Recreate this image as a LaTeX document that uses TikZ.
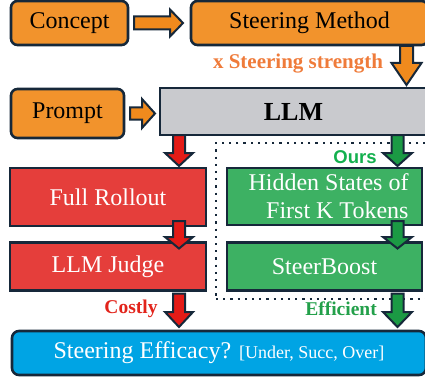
\documentclass[tikz,border=0pt]{standalone}
\usepackage{fontspec}
\setmainfont{Liberation Serif}
\newfontfamily\oursfont{Liberation Sans}
\usetikzlibrary{calc}
\definecolor{bord}{HTML}{16283A}
\definecolor{orng}{HTML}{F2932C}
\definecolor{orarr}{HTML}{F08A1D}
\definecolor{llmgray}{HTML}{C9CACE}
\definecolor{redbox}{HTML}{E53E3B}
\definecolor{greenbox}{HTML}{3DB163}
\definecolor{bluebox}{HTML}{00A4E4}
\definecolor{redarr}{HTML}{E41B17}
\definecolor{greenarr}{HTML}{1B9A44}
\definecolor{strc}{HTML}{EF7B3A}
\definecolor{oursc}{HTML}{13B04E}
\definecolor{costc}{HTML}{E2231A}
\definecolor{effc}{HTML}{23A04A}
\newcommand\arrdown[6]{%
  \draw[blockarr,fill=#1] ($(#2)+(-#4,0)$) -- ($(#3)+(-#4,-#6)$) -- ($(#3)+(-#5,-#6)$) -- (#3)
    -- ($(#3)+(#5,-#6)$) -- ($(#3)+(#4,-#6)$) -- ($(#2)+(#4,0)$) -- cycle;}
\newcommand\arrright[6]{%
  \draw[blockarr,fill=#1] ($(#2)+(0,-#4)$) -- ($(#3)+(-#6,-#4)$) -- ($(#3)+(-#6,-#5)$) -- (#3)
    -- ($(#3)+(-#6,#5)$) -- ($(#3)+(-#6,#4)$) -- ($(#2)+(0,#4)$) -- cycle;}
\begin{document}
\begin{tikzpicture}[x=1pt,y=-1pt,
  box/.style={draw=bord, line width=2.6pt, inner sep=0pt, outer sep=0pt,
    font=\fontsize{24}{28}\selectfont},
  obox/.style={box, fill=orng, rounded corners=6.5pt, text=black},
  gbox/.style={box, fill=llmgray, text=black, font=\fontsize{26}{30}\selectfont\bfseries},
  rbox/.style={box, fill=redbox, text=white},
  grbox/.style={box, fill=greenbox, text=white, align=right},
  bbox/.style={box, fill=bluebox, rounded corners=7pt, text=white},
  dotbox/.style={draw=bord, line width=2.2pt, dash pattern=on 2.2pt off 5pt, inner sep=0pt, outer sep=0pt},
  blockarr/.style={draw=bord, line width=2pt, line join=miter},
  lab/.style={inner sep=0pt, font=\fontsize{19.5}{22}\selectfont\bfseries}]
\useasboundingbox (0,0) rectangle (425,377);
% nodes
\node[obox, minimum width=117, minimum height=44] (concept) at (69.5,23) {Concept};
\node[obox, minimum width=237, minimum height=44] (steer) at (309.5,23) {Steering Method};
\node[obox, minimum width=113, minimum height=49] (prompt) at (67.5,113.5) {Prompt};
\node[gbox, minimum width=267, minimum height=47] (llm) at (293.5,111.5) {LLM};
\node[dotbox, minimum width=214, minimum height=156] (oursbox) at (323,221) {};
\node[rbox, minimum width=196, minimum height=58] (roll) at (108,197) {Full Rollout};
\node[grbox, minimum width=195, minimum height=57] (hidden) at (324.5,196.5) {\hspace*{8pt}Hidden States of\\First K Tokens};
\node[rbox, minimum width=196, minimum height=48] (judge) at (108,266.5) {LLM Judge};
\node[grbox, minimum width=195, minimum height=48] (boost) at (324.5,266.5) {SteerBoost};
\node[bbox, minimum width=414, minimum height=44] (eff) at (219,353) {Steering Efficacy? {\fontsize{18}{20}\selectfont[Under, Succ, Over]}};
% labels
\node[lab, text=strc, font=\fontsize{21}{24}\selectfont\bfseries] (strength) at (298,64) {x Steering strength};
\node[inner sep=0pt, text=oursc, font=\oursfont\bfseries\fontsize{18.5}{20}\selectfont] (ours) at (355,157) {Ours};
\node[lab, text=costc] (costly) at (131,309) {Costly};
\node[lab, text=effc] (efficient) at (341,309) {Efficient};
% arrow columns
\coordinate (sx) at (406.5,0);
\coordinate (rx) at (179,0);
\coordinate (gx) at (397.5,0);
% orange arrows
\arrright{orarr}{$(concept.east)+(6,0)$}{$(steer.west)+(-8,0)$}{6.5}{13.5}{13}
\arrright{orarr}{$(prompt.east)+(6,0)$}{$(llm.west |- prompt.east)+(-5,0)$}{6}{14.5}{13}
\arrdown{orarr}{$(steer.south -| sx)+(0,1)$}{$(llm.north -| sx)+(0,-3)$}{6.5}{15}{22}
% red path
\arrdown{redarr}{llm.south -| rx}{$(roll.north -| rx)+(0,-2)$}{6}{14}{13}
\arrdown{redarr}{$(roll.south -| rx)+(0,-5)$}{$(judge.north -| rx)+(0,6)$}{6}{14}{11.5}
\arrdown{redarr}{$(judge.south -| rx)+(0,3)$}{$(eff.north -| rx)+(0,-4)$}{6}{14}{15}
% green path
\arrdown{greenarr}{llm.south -| gx}{$(hidden.north -| gx)+(0,-2)$}{6}{14.5}{13}
\arrdown{greenarr}{$(hidden.south -| gx)+(0,-4)$}{$(boost.north -| gx)+(0,6)$}{6}{14.5}{11.5}
\arrdown{greenarr}{$(boost.south -| gx)+(0,3)$}{$(eff.north -| gx)+(0,-4)$}{6}{14.5}{15}
\end{tikzpicture}
\end{document}
